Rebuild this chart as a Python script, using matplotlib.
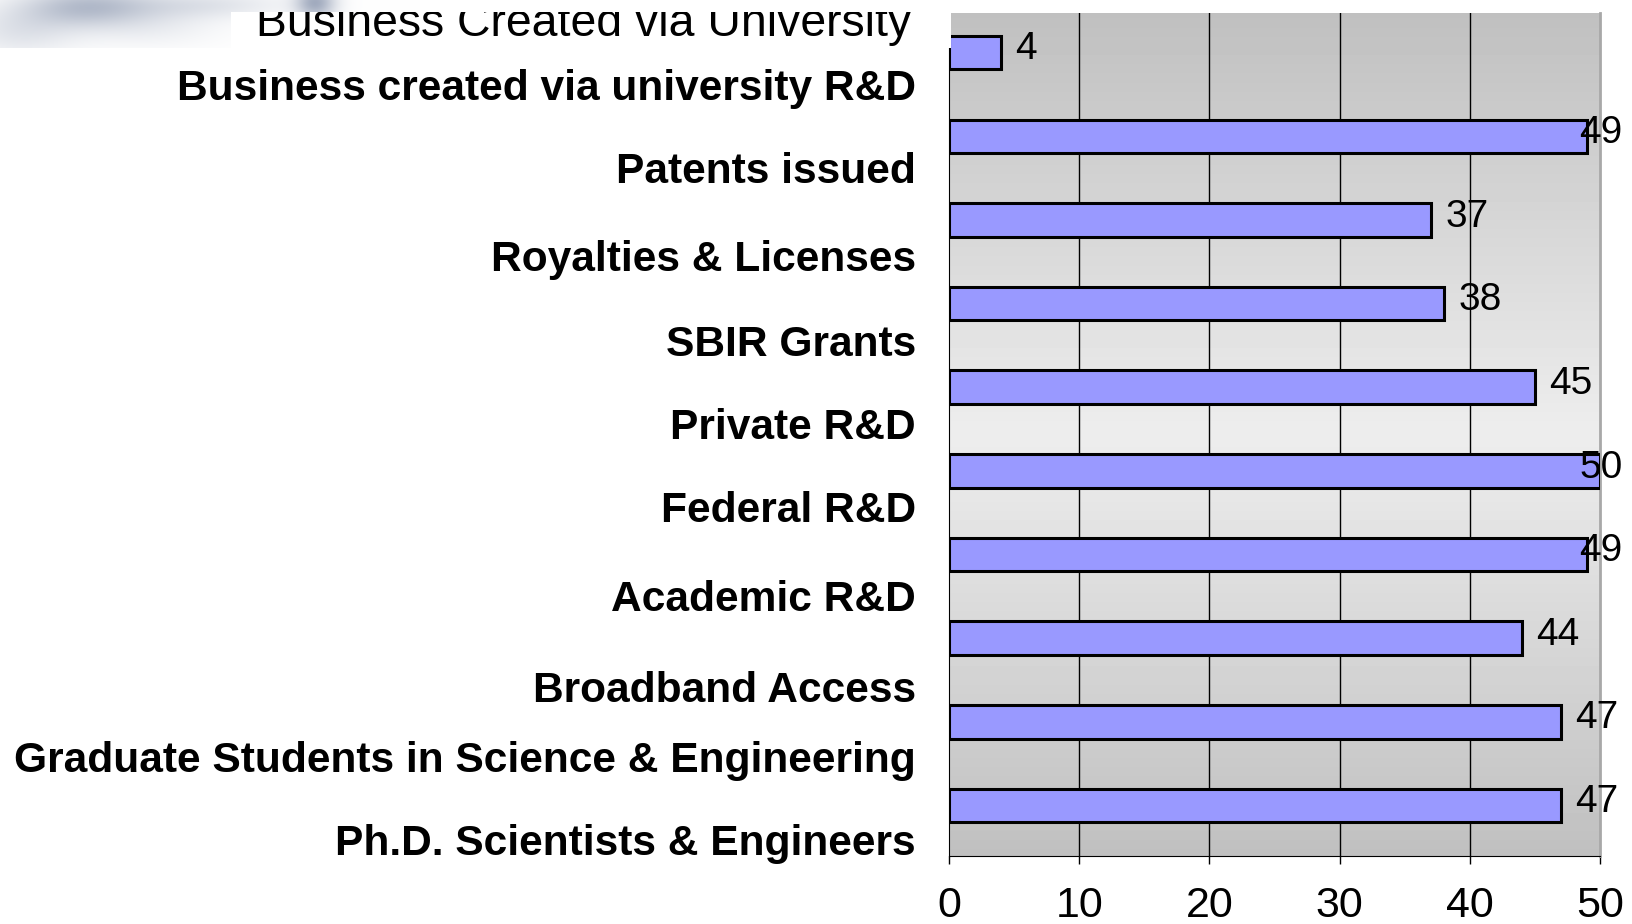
import numpy as np
import matplotlib
matplotlib.use("Agg")
import matplotlib.pyplot as plt
from matplotlib.transforms import Bbox, blended_transform_factory
from matplotlib.patches import Rectangle

plt.rcParams['font.family'] = ['Liberation Sans', 'DejaVu Sans']

# donnees
title = "Business Created via University"
categories = ["Business created via university R&D", "Patents issued",
              "Royalties & Licenses", "SBIR Grants", "Private R&D",
              "Federal R&D", "Academic R&D", "Broadband Access",
              "Graduate Students in Science & Engineering",
              "Ph.D. Scientists & Engineers"]
values = [4, 49, 37, 38, 45, 50, 49, 44, 47, 47]
xticks = [0, 10, 20, 30, 40, 50]

# decalage vertical des etiquettes (texte de la diapo, pas aligne)
label_shift = [0.43, 0.43, 0.48, 0.49, 0.49, 0.48, 0.55, 0.63, 0.47, 0.46]

W, H = 1632, 924
fig = plt.figure(figsize=(W / 100, H / 100), dpi=100)
fig.patch.set_facecolor("white")

ax = fig.add_axes([949 / W, (H - 855.6) / H, 651 / W, (855.6 - 12.5) / H])

# fond en degrade gris
grad = np.concatenate([np.linspace(192, 237, 50), np.linspace(237, 192, 50)])
grad = np.repeat(grad[:, None], 2, axis=1) / 255.0
ax.imshow(grad, cmap="gray", vmin=0, vmax=1, aspect="auto",
          extent=[0, 50, 9.6, -0.48], zorder=0, interpolation="bilinear")

ypos = np.arange(len(values))
ax.barh(ypos, values, height=0.40, color="#9999ff", edgecolor="black",
        linewidth=2.2, zorder=3)

for x in xticks[1:-1]:
    ax.axvline(x, color="black", linewidth=1, zorder=1)

for i, v in enumerate(values):
    ax.text(min(v + 1.1, 48.4), i - 0.04, str(v), fontsize=28,
            ha="left", va="center", zorder=4, clip_on=False)

trans = blended_transform_factory(ax.transAxes, ax.transData)
for i, lab in enumerate(categories):
    ax.text(-0.0507, i + label_shift[i], lab, transform=trans, fontsize=30.6,
            fontweight="bold", ha="right", va="center", clip_on=False)

ax.set_xlim(0, 50)
ax.set_ylim(9.6, -0.48)
ax.set_xticks(xticks)
ax.set_yticks([])
ax.tick_params(axis="x", direction="out", length=6, width=1, labelsize=31,
               pad=16, colors="black")
ax.spines["top"].set_visible(False)
ax.spines["right"].set_color("#a8a8a8")
ax.spines["right"].set_linewidth(2)
ax.spines["left"].set_color("black")
ax.spines["bottom"].set_color("black")

# image floue de la diapo en haut a gauche
ih, iw = 48, 420
yy, xx = np.mgrid[0:ih, 0:iw]
shade = np.zeros((ih, iw))
for cx, cy, sx, sy, a in [(85, 6, 45, 14, 0.45), (20, 30, 40, 18, 0.2),
                          (200, 4, 60, 10, 0.2), (315, 2, 14, 12, 0.6),
                          (150, 25, 50, 15, 0.12)]:
    shade += a * np.exp(-((xx - cx) ** 2 / (2 * sx ** 2) + (yy - cy) ** 2 / (2 * sy ** 2)))
shade = np.clip(shade, 0, 0.8)
base = np.array([0.42, 0.48, 0.60])
img = 1 - shade[:, :, None] * (1 - base)
ax_img = fig.add_axes([0, (H - ih) / H, iw / W, ih / H])
ax_img.imshow(img, aspect="auto", interpolation="bilinear")
ax_img.axis("off")

fig.patches.append(Rectangle((231 / W, (H - 48) / H), 720 / W, 36 / H,
                             transform=fig.transFigure, facecolor="white",
                             edgecolor="none", zorder=2))

t = fig.text(911 / W, (H - 36) / H, title, fontsize=33.4, ha="right",
             va="baseline", zorder=3)
t.set_clip_box(Bbox.from_extents(0, 0, W, H - 12))
t.set_clip_on(True)

fig.savefig("out.png", dpi=100)
